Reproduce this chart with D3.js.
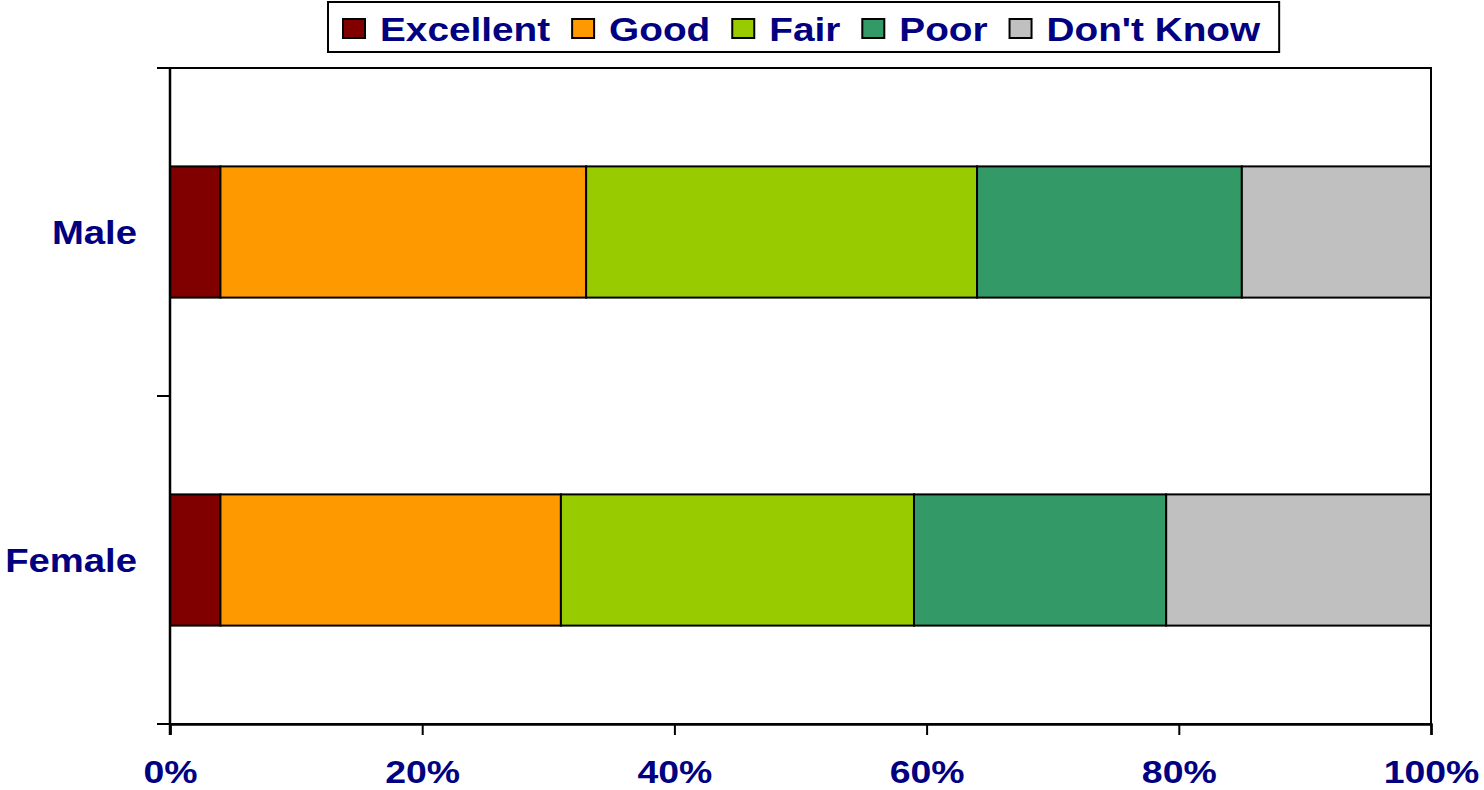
<!DOCTYPE html>
<html>
<head>
<meta charset="utf-8">
<script src="https://cdn.jsdelivr.net/npm/d3@7"></script>
<style>
  body { margin: 0; background: #fff; }
  svg { display: block; }
  text { font-family: "Liberation Sans", Arial, sans-serif; font-weight: bold; fill: #000080; }
</style>
</head>
<body>
<svg></svg>
<script>
// chart data
var categories = ["Male", "Female"];
var seriesNames = ["Excellent", "Good", "Fair", "Poor", "Don't Know"];
var excellent = [4, 4];
var good = [29, 27];
var fair = [31, 28];
var poor = [21, 20];
var dontKnow = [15, 21];
var xTicks = [0, 20, 40, 60, 80, 100];
var colors = ["#800000", "#FF9900", "#99CC00", "#339966", "#C0C0C0"];

var margin = { top: 68, right: 53, bottom: 66, left: 170 },
  width = 1484 - margin.left - margin.right,
  height = 790 - margin.top - margin.bottom;

var svg = d3.select("svg")
  .attr("width", 1484)
  .attr("height", 790);

var g = svg.append("g")
  .attr("transform", "translate(" + margin.left + "," + margin.top + ")");

// build rows for the stack
var seriesValues = [excellent, good, fair, poor, dontKnow];
var rows = categories.map(function(c, i) {
  var r = { category: c };
  seriesNames.forEach(function(s, j) { r[s] = seriesValues[j][i]; });
  return r;
});

var stacked = d3.stack().keys(seriesNames)(rows);

var x = d3.scaleLinear().domain([0, 100]).range([0, width]);
var y = d3.scaleBand().domain(categories).range([0, height])
  .paddingInner(0.6).paddingOuter(0.3);
var color = d3.scaleOrdinal().domain(seriesNames).range(colors);

// plot area border
g.append("rect")
  .attr("width", width)
  .attr("height", height)
  .attr("fill", "none")
  .attr("stroke", "#000")
  .attr("stroke-width", 2);

// bars
g.selectAll("g.series")
  .data(stacked)
  .enter().append("g")
  .attr("class", "series")
  .attr("fill", function(d) { return color(d.key); })
  .selectAll("rect")
  .data(function(d) { return d; })
  .enter().append("rect")
  .attr("x", function(d) { return x(d[0]); })
  .attr("width", function(d) { return x(d[1]) - x(d[0]); })
  .attr("y", function(d) { return y(d.data.category); })
  .attr("height", y.bandwidth())
  .attr("stroke", "#000")
  .attr("stroke-width", 2);

// x axis
var xAxis = d3.axisBottom(x)
  .tickValues(xTicks)
  .tickSize(11)
  .tickFormat(function(d) { return d + "%"; });

var xg = g.append("g")
  .attr("transform", "translate(0," + height + ")")
  .call(xAxis);
xg.select(".domain").attr("stroke", "#000").attr("stroke-width", 2.5);
xg.selectAll(".tick line").attr("stroke", "#000").attr("stroke-width", 2);
xg.selectAll(".tick text")
  .attr("y", 0).attr("dy", 0)
  .attr("transform", "translate(0,59) scale(1.17,1)")
  .style("font-size", "32px")
  .style("fill", "#000080");

// y axis: labels at band centres, ticks at band boundaries
var yAxis = d3.axisLeft(y).tickSize(0).tickPadding(0);
var yg = g.append("g").call(yAxis);
yg.select(".domain").remove();
yg.selectAll(".tick text")
  .attr("x", 0).attr("dy", "0.36em")
  .attr("transform", "translate(-33,0) scale(1.16,1)")
  .style("font-size", "33px")
  .style("fill", "#000080");

var boundaries = d3.range(categories.length + 1).map(function(i) {
  return i * y.step();
});
g.selectAll("line.ytick")
  .data(boundaries)
  .enter().append("line")
  .attr("class", "ytick")
  .attr("x1", -13).attr("x2", 0)
  .attr("y1", function(d) { return d; })
  .attr("y2", function(d) { return d; })
  .attr("stroke", "#000")
  .attr("stroke-width", 2);

g.append("line")
  .attr("x1", 0).attr("x2", 0)
  .attr("y1", 0).attr("y2", height + 11)
  .attr("stroke", "#000")
  .attr("stroke-width", 2.5);

// legend
var legend = svg.append("g");
var legendBox = legend.append("rect")
  .attr("x", 328).attr("y", 2)
  .attr("height", 50)
  .attr("fill", "#fff")
  .attr("stroke", "#000")
  .attr("stroke-width", 2);

var lx = 343;
seriesNames.forEach(function(name) {
  legend.append("rect")
    .attr("x", lx).attr("y", 19)
    .attr("width", 22).attr("height", 19)
    .attr("fill", color(name))
    .attr("stroke", "#000")
    .attr("stroke-width", 2);
  var t = legend.append("text")
    .attr("transform", "translate(" + (lx + 37) + ",41) scale(1.14,1)")
    .style("font-size", "34px")
    .text(name);
  var w = t.node().getComputedTextLength() * 1.14;
  lx = lx + 37 + w + 22;
});
legendBox.attr("width", lx - 22 + 19 - 328);
</script>
</body>
</html>
